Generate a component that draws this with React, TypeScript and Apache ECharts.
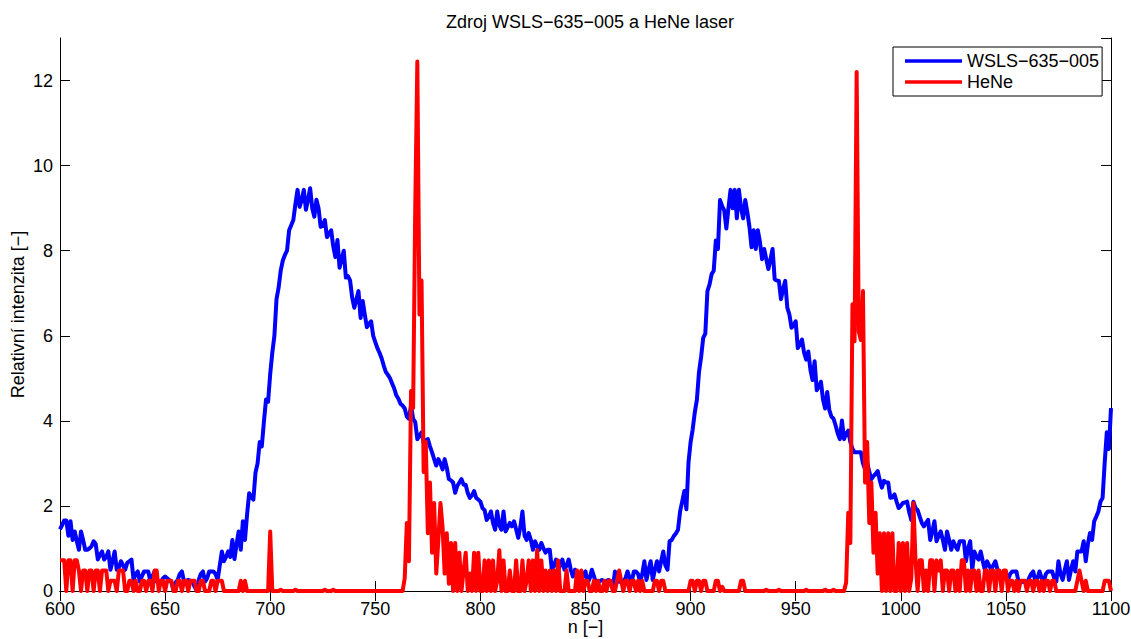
import React, { useEffect, useRef } from "react";
import * as echarts from "echarts";

// ---- data (n = 600 ... 1100, step 1) ----
const N_START = 600;
const X_TICKS_INTERVAL = 50;
const Y_TICKS_INTERVAL = 2;

const TITLE = "Zdroj WSLS\u2212635\u2212005 a HeNe laser";
const X_NAME = "n [\u2212]";
const Y_NAME = "Relativní intenzita [\u2212]";
const SERIES_NAMES = ["WSLS\u2212635\u2212005", "HeNe"];

const wslsValues: number[] = [
  1.45, 1.55, 1.66, 1.66, 1.3, 1.64, 1.2, 1.4, 1.17, 0.97,
  1.4, 1.2, 0.97, 0.97, 1.0, 1.05, 1.17, 1.1, 0.74, 0.85,
  0.93, 0.74, 0.8, 0.93, 0.5, 0.7, 0.93, 0.5, 0.55, 0.7,
  0.6, 0.5, 0.66, 0.7, 0.74, 0.26, 0.4, 0.46, 0.22, 0.35,
  0.46, 0.46, 0.46, 0.22, 0.35, 0.46, 0.22, 0.22, 0.22, 0.3,
  0.34, 0.3, 0.26, 0.2, 0.02, 0.2, 0.26, 0.4, 0.46, 0.22,
  0.24, 0.26, 0.24, 0.22, 0.1, 0.02, 0.26, 0.4, 0.46, 0.22,
  0.3, 0.46, 0.46, 0.46, 0.4, 0.26, 0.6, 0.93, 0.7, 0.8,
  0.93, 0.8, 1.2, 0.75, 1.1, 1.4, 0.97, 1.64, 1.2, 1.8,
  2.3, 2.2, 2.15, 2.78, 3.0, 3.5, 3.4, 3.97, 4.5, 4.45,
  5.1, 5.6, 6.0, 6.86, 7.13, 7.53, 7.77, 7.9, 8.0, 8.48,
  8.6, 8.72, 9.1, 9.43, 9.03, 9.2, 9.43, 8.96, 9.2, 9.47,
  9.0, 8.8, 9.2, 9.0, 8.56, 8.6, 8.72, 8.32, 8.4, 8.48,
  8.1, 7.85, 8.25, 7.6, 7.8, 8.0, 7.37, 7.4, 7.3, 6.9,
  6.66, 6.85, 7.05, 6.42, 6.82, 6.5, 6.2, 6.28, 6.34, 6.0,
  5.85, 5.71, 5.6, 5.47, 5.3, 5.15, 5.08, 5.0, 4.88, 4.76,
  4.6, 4.52, 4.4, 4.36, 4.29, 4.1, 4.05, 4.36, 4.05, 3.97,
  3.57, 3.65, 3.73, 3.49, 3.55, 3.57, 3.4, 3.26, 3.1, 2.95,
  3.1, 3.0, 2.86, 3.1, 2.9, 2.63, 2.6, 2.55, 2.31, 2.47,
  2.55, 2.63, 2.5, 2.5, 2.3, 2.19, 2.25, 2.35, 2.19, 2.15,
  2.1, 1.95, 1.9, 1.67, 1.75, 1.87, 1.6, 1.44, 1.87, 1.55,
  1.44, 1.87, 1.4, 1.5, 1.6, 1.52, 1.64, 1.45, 1.25, 1.5,
  1.87, 1.3, 1.2, 1.36, 1.2, 0.97, 1.17, 1.05, 0.97, 1.13,
  1.0, 0.9, 0.97, 0.97, 0.5, 0.6, 0.74, 0.5, 0.6, 0.74,
  0.5, 0.6, 0.74, 0.5, 0.34, 0.5, 0.45, 0.42, 0.22, 0.4,
  0.46, 0.18, 0.3, 0.5, 0.35, 0.18, 0.2, 0.24, 0.26, 0.22,
  0.24, 0.26, 0.15, 0.06, 0.46, 0.3, 0.22, 0.22, 0.22, 0.3,
  0.46, 0.3, 0.22, 0.46, 0.46, 0.4, 0.22, 0.4, 0.7, 0.26,
  0.5, 0.7, 0.26, 0.5, 0.7, 0.46, 0.7, 0.93, 0.6, 0.5,
  1.17, 1.2, 1.29, 1.35, 1.44, 1.87, 2.1, 2.35, 1.92, 3.02,
  3.5, 3.8, 4.2, 4.5, 5.15, 5.5, 5.95, 6.05, 7.05, 7.2,
  7.45, 7.53, 8.24, 8.04, 9.19, 9.05, 8.95, 8.52, 9.0, 9.43,
  9.0, 9.43, 8.76, 9.43, 9.0, 8.76, 9.19, 8.9, 8.56, 8.08,
  8.48, 8.04, 8.48, 8.2, 7.8, 8.04, 7.8, 7.57, 7.8, 8.04,
  7.33, 7.3, 7.29, 6.86, 7.1, 7.29, 6.66, 6.5, 6.19, 6.25,
  6.34, 5.71, 5.8, 5.91, 5.6, 5.44, 5.63, 5.2, 4.96, 5.4,
  4.72, 4.8, 4.92, 4.5, 4.29, 4.68, 4.25, 4.1, 4.05, 3.89,
  3.7, 3.57, 4.01, 3.57, 3.7, 3.77, 3.5, 3.34, 3.26, 3.26,
  3.26, 3.26, 3.0, 2.86, 3.02, 2.8, 2.63, 2.7, 2.75, 2.82,
  2.6, 2.43, 2.59, 2.55, 2.55, 2.19, 2.2, 2.27, 2.1, 1.95,
  2.0, 2.07, 2.08, 2.1, 1.85, 1.67, 2.1, 1.95, 1.9, 1.75,
  1.6, 1.52, 1.6, 1.67, 1.2, 1.4, 1.64, 1.17, 1.3, 1.4,
  1.2, 0.97, 1.4, 1.2, 0.97, 1.17, 1.05, 0.97, 1.17, 1.17,
  1.17, 0.7, 1.0, 1.17, 0.5, 0.93, 0.8, 0.74, 0.93, 0.7,
  0.5, 0.7, 0.6, 0.5, 0.6, 0.7, 0.5, 0.35, 0.22, 0.46,
  0.35, 0.26, 0.4, 0.46, 0.46, 0.46, 0.22, 0.22, 0.22, 0.2,
  0.18, 0.3, 0.4, 0.46, 0.22, 0.3, 0.46, 0.3, 0.22, 0.4,
  0.46, 0.46, 0.46, 0.3, 0.22, 0.7, 0.4, 0.26, 0.5, 0.7,
  0.26, 0.5, 0.7, 0.46, 0.93, 0.93, 0.93, 1.17, 0.7, 1.1,
  1.36, 1.2, 1.64, 1.75, 1.87, 2.1, 2.19, 3.02, 3.73, 3.34,
  4.3,
];

const heneValues: number[] = [
  0.72, 0.72, 0.72, 0, 0.72, 0.72, 0, 0.72, 0.72, 0.48,
  0, 0.48, 0.48, 0, 0.48, 0.48, 0, 0.48, 0.48, 0,
  0.48, 0.48, 0.48, 0, 0.24, 0.24, 0.24, 0, 0.48, 0.48,
  0.48, 0, 0, 0.24, 0.24, 0, 0.24, 0, 0, 0.24,
  0.24, 0, 0.24, 0.24, 0, 0.48, 0.48, 0, 0.24, 0.24,
  0, 0.24, 0.24, 0.24, 0, 0, 0.24, 0.24, 0, 0.24,
  0.24, 0, 0.24, 0.24, 0.24, 0, 0, 0.24, 0.24, 0,
  0, 0, 0.24, 0.24, 0, 0.24, 0.24, 0.24, 0, 0,
  0, 0, 0, 0, 0, 0, 0.24, 0, 0.24, 0,
  0, 0, 0, 0, 0, 0, 0, 0, 0, 0,
  1.4, 0, 0, 0, 0, 0.03, 0, 0, 0, 0,
  0, 0, 0.03, 0, 0, 0, 0, 0, 0, 0,
  0, 0, 0, 0, 0, 0, 0.03, 0, 0, 0,
  0.03, 0, 0, 0, 0, 0, 0, 0, 0, 0,
  0, 0, 0, 0, 0, 0, 0, 0, 0, 0,
  0, 0, 0, 0, 0, 0, 0, 0, 0, 0,
  0, 0, 0, 0, 0.3, 1.6, 0.7, 4.7, 4.3, 9.0,
  12.45, 6.5, 7.3, 2.8, 3.5, 1.36, 2.55, 0.9, 2.07, 0.41,
  1.2, 2.07, 1.5, 0.41, 1.36, 0.17, 1.13, 0, 1.13, 0,
  0.9, 0, 0.48, 0.9, 0, 0.41, 0, 0.9, 0, 0.9,
  0, 0, 0.72, 0, 0.72, 0, 0.72, 0, 0.24, 0.96,
  0, 0.72, 0, 0, 0.48, 0, 0, 0.72, 0, 0,
  0.72, 0, 0.24, 0.72, 0, 0.72, 0, 0.96, 0, 0.72,
  0, 0.48, 0, 0.48, 0, 0.48, 0, 0.72, 0, 0,
  0, 0.48, 0, 0, 0, 0, 0.48, 0, 0.48, 0,
  0.24, 0.24, 0, 0, 0.24, 0, 0.24, 0, 0, 0.24,
  0, 0.24, 0.24, 0, 0, 0.24, 0.48, 0.24, 0, 0.24,
  0.24, 0, 0.24, 0.24, 0, 0.24, 0, 0.24, 0, 0,
  0, 0, 0, 0.24, 0.24, 0, 0.24, 0.24, 0, 0,
  0, 0, 0, 0, 0, 0, 0, 0, 0, 0,
  0.24, 0.24, 0, 0.24, 0.24, 0, 0.24, 0.24, 0, 0,
  0, 0, 0.24, 0.24, 0, 0.1, 0, 0, 0, 0,
  0, 0, 0, 0, 0.24, 0.24, 0, 0, 0, 0,
  0, 0, 0, 0, 0, 0, 0.03, 0, 0, 0,
  0, 0, 0.03, 0, 0, 0, 0, 0, 0, 0,
  0, 0, 0, 0, 0, 0.03, 0, 0, 0, 0,
  0, 0, 0, 0, 0.03, 0, 0, 0, 0.03, 0,
  0, 0, 0, 0, 0.2, 1.84, 1.13, 6.74, 5.87, 12.2,
  6.1, 5.9, 7.05, 2.55, 3.5, 1.6, 2.55, 0.9, 1.84, 0.41,
  1.36, 0, 1.36, 0, 1.36, 0, 1.36, 0, 0, 1.13,
  0, 1.13, 0, 1.13, 0, 0.3, 2.07, 0.72, 0, 0.72,
  0.72, 0, 0.48, 0, 0.72, 0.72, 0, 0.72, 0.48, 0.72,
  0, 0.48, 0.48, 0, 0.48, 0.48, 0, 0.48, 0, 0.72,
  0.72, 0, 0.48, 0, 0.48, 0.48, 0, 0.48, 0, 0,
  0.48, 0.48, 0, 0.48, 0.48, 0, 0.48, 0.48, 0, 0.48,
  0.48, 0, 0.24, 0.24, 0, 0.24, 0, 0.24, 0.24, 0.24,
  0, 0.24, 0.24, 0, 0.24, 0.24, 0, 0.24, 0, 0.24,
  0.24, 0, 0.24, 0.24, 0, 0, 0, 0, 0, 0,
  0, 0, 0, 0, 0.24, 0.48, 0.24, 0, 0.24, 0,
  0, 0, 0, 0, 0, 0, 0, 0.24, 0.24, 0.24,
  0,
];

const X_MIN = 600;
const X_MAX = 1100;
const Y_MIN = 0;
const Y_MAX = 13;

const FONT = "'Liberation Sans', Arial, Helvetica, sans-serif";

function toPairs(values: number[]): [number, number][] {
  return values.map((v, i) => [N_START + i, v]);
}

export default function App() {
  const ref = useRef<HTMLDivElement>(null);

  useEffect(() => {
    if (!ref.current) return;
    const chart = echarts.init(ref.current, undefined, { renderer: "svg" });

    const axisLine = { show: true, lineStyle: { color: "#000", width: 1 } };
    const tickIn = { show: true, inside: true, length: 10, lineStyle: { color: "#000", width: 1 } };

    chart.setOption({
      animation: false,
      backgroundColor: "#fff",
      textStyle: { fontFamily: FONT, color: "#000" },
      title: {
        text: TITLE,
        left: 585,
        textAlign: "center",
        top: 8,
        textStyle: { fontFamily: FONT, fontSize: 18, fontWeight: "normal", color: "#000" },
      },
      legend: {
        orient: "vertical",
        left: 893,
        top: 47,
        padding: [5, 3, 5, 12],
        itemGap: 3,
        itemWidth: 57,
        itemHeight: 3.5,
        icon: "rect",
        backgroundColor: "#fff",
        borderColor: "#000",
        borderWidth: 1,
        borderRadius: 0,
        data: SERIES_NAMES,
        textStyle: { fontFamily: FONT, fontSize: 18, color: "#000", lineHeight: 18 },
      },
      grid: {
        left: 60,
        right: 20,
        top: 38,
        bottom: 48,
        containLabel: false,
        outerBoundsMode: "none",
      },
      xAxis: [
        {
          type: "value",
          min: X_MIN,
          max: X_MAX,
          interval: X_TICKS_INTERVAL,
          position: "bottom",
          name: X_NAME,
          nameLocation: "middle",
          nameGap: 27,
          nameMoveOverlap: false,
          nameTextStyle: { fontFamily: FONT, fontSize: 18, color: "#000", lineHeight: 18 },
          axisLine,
          axisTick: tickIn,
          axisLabel: {
            fontFamily: FONT,
            fontSize: 18,
            color: "#000",
            margin: 10,
            lineHeight: 16,
            formatter: (v: number) => String(v),
          },
          splitLine: { show: false },
        },
        {
          type: "value",
          min: X_MIN,
          max: X_MAX,
          interval: X_TICKS_INTERVAL,
          position: "top",
          axisLine,
          axisTick: tickIn,
          axisLabel: { show: false },
          splitLine: { show: false },
        },
      ],
      yAxis: [
        {
          type: "value",
          min: Y_MIN,
          max: Y_MAX,
          interval: Y_TICKS_INTERVAL,
          position: "left",
          name: Y_NAME,
          nameLocation: "middle",
          nameGap: 33,
          nameMoveOverlap: false,
          nameTextStyle: { fontFamily: FONT, fontSize: 18, color: "#000", lineHeight: 18 },
          axisLine,
          axisTick: tickIn,
          axisLabel: {
            fontFamily: FONT,
            fontSize: 18,
            color: "#000",
            margin: 7,
            lineHeight: 12,
            showMaxLabel: false,
            formatter: (v: number) => (v % 2 === 0 ? String(v) : ""),
          },
          splitLine: { show: false },
        },
        {
          type: "value",
          min: Y_MIN,
          max: Y_MAX,
          interval: Y_TICKS_INTERVAL,
          position: "right",
          axisLine,
          axisTick: tickIn,
          axisLabel: { show: false },
          splitLine: { show: false },
        },
      ],
      series: [
        {
          name: SERIES_NAMES[0],
          type: "line",
          xAxisIndex: 0,
          yAxisIndex: 0,
          data: toPairs(wslsValues),
          showSymbol: false,
          symbol: "none",
          color: "#0000ff",
          lineStyle: { color: "#0000ff", width: 4, join: "round" },
          z: 2,
        },
        {
          name: SERIES_NAMES[1],
          type: "line",
          xAxisIndex: 0,
          yAxisIndex: 0,
          data: toPairs(heneValues),
          showSymbol: false,
          symbol: "none",
          color: "#ff0000",
          lineStyle: { color: "#ff0000", width: 4, join: "round" },
          z: 3,
        },
      ],
    });

    return () => chart.dispose();
  }, []);

  return (
    <div
      ref={ref}
      style={{ position: "fixed", left: 0, top: 0, width: 1131, height: 639, background: "#fff" }}
    />
  );
}
